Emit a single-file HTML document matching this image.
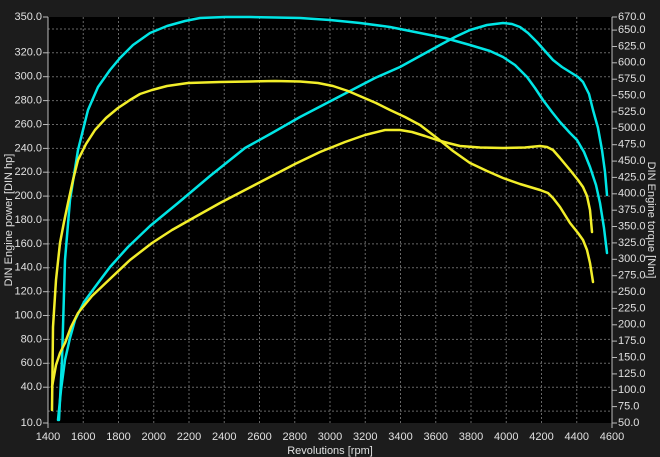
<!DOCTYPE html>
<html><head><meta charset="utf-8"><style>
html,body{margin:0;padding:0;background:#1c1c1c;}
svg{display:block;}
text{font-family:"Liberation Sans",sans-serif;font-size:11px;fill:#e0e0e0;}
</style></head><body>
<svg width="660" height="457" viewBox="0 0 660 457" xmlns="http://www.w3.org/2000/svg">
<rect x="0" y="0" width="660" height="457" fill="#1c1c1c"/>
<rect x="48" y="17" width="564" height="406" fill="#000"/>
<g stroke="#666" stroke-width="1" stroke-dasharray="2,2">
<line x1="83.25" y1="17" x2="83.25" y2="423"/><line x1="118.5" y1="17" x2="118.5" y2="423"/><line x1="153.75" y1="17" x2="153.75" y2="423"/><line x1="189" y1="17" x2="189" y2="423"/><line x1="224.25" y1="17" x2="224.25" y2="423"/><line x1="259.5" y1="17" x2="259.5" y2="423"/><line x1="294.75" y1="17" x2="294.75" y2="423"/><line x1="330" y1="17" x2="330" y2="423"/><line x1="365.25" y1="17" x2="365.25" y2="423"/><line x1="400.5" y1="17" x2="400.5" y2="423"/><line x1="435.75" y1="17" x2="435.75" y2="423"/><line x1="471" y1="17" x2="471" y2="423"/><line x1="506.25" y1="17" x2="506.25" y2="423"/><line x1="541.5" y1="17" x2="541.5" y2="423"/><line x1="576.75" y1="17" x2="576.75" y2="423"/>
<line x1="48" y1="411.1" x2="612" y2="411.1"/><line x1="48" y1="387.2" x2="612" y2="387.2"/><line x1="48" y1="363.3" x2="612" y2="363.3"/><line x1="48" y1="339.4" x2="612" y2="339.4"/><line x1="48" y1="315.5" x2="612" y2="315.5"/><line x1="48" y1="291.7" x2="612" y2="291.7"/><line x1="48" y1="267.8" x2="612" y2="267.8"/><line x1="48" y1="243.9" x2="612" y2="243.9"/><line x1="48" y1="220" x2="612" y2="220"/><line x1="48" y1="196.1" x2="612" y2="196.1"/><line x1="48" y1="172.2" x2="612" y2="172.2"/><line x1="48" y1="148.4" x2="612" y2="148.4"/><line x1="48" y1="124.5" x2="612" y2="124.5"/><line x1="48" y1="100.6" x2="612" y2="100.6"/><line x1="48" y1="76.7" x2="612" y2="76.7"/><line x1="48" y1="52.8" x2="612" y2="52.8"/><line x1="48" y1="29" x2="612" y2="29"/>
</g>
<g stroke="#bbb" stroke-width="1">
<line x1="48" y1="17" x2="48" y2="428"/><line x1="612" y1="17" x2="612" y2="428"/>
<line x1="43" y1="423" x2="48" y2="423"/><line x1="43" y1="387.2" x2="48" y2="387.2"/><line x1="43" y1="363.3" x2="48" y2="363.3"/><line x1="43" y1="339.4" x2="48" y2="339.4"/><line x1="43" y1="315.5" x2="48" y2="315.5"/><line x1="43" y1="291.7" x2="48" y2="291.7"/><line x1="43" y1="267.8" x2="48" y2="267.8"/><line x1="43" y1="243.9" x2="48" y2="243.9"/><line x1="43" y1="220" x2="48" y2="220"/><line x1="43" y1="196.1" x2="48" y2="196.1"/><line x1="43" y1="172.2" x2="48" y2="172.2"/><line x1="43" y1="148.4" x2="48" y2="148.4"/><line x1="43" y1="124.5" x2="48" y2="124.5"/><line x1="43" y1="100.6" x2="48" y2="100.6"/><line x1="43" y1="76.7" x2="48" y2="76.7"/><line x1="43" y1="52.8" x2="48" y2="52.8"/><line x1="43" y1="17" x2="48" y2="17"/>
</g>
<g stroke="#bbb" stroke-width="1">
<line x1="612" y1="423" x2="617" y2="423"/><line x1="612" y1="406.6" x2="617" y2="406.6"/><line x1="612" y1="390.3" x2="617" y2="390.3"/><line x1="612" y1="373.9" x2="617" y2="373.9"/><line x1="612" y1="357.5" x2="617" y2="357.5"/><line x1="612" y1="341.1" x2="617" y2="341.1"/><line x1="612" y1="324.8" x2="617" y2="324.8"/><line x1="612" y1="308.4" x2="617" y2="308.4"/><line x1="612" y1="292" x2="617" y2="292"/><line x1="612" y1="275.7" x2="617" y2="275.7"/><line x1="612" y1="259.3" x2="617" y2="259.3"/><line x1="612" y1="242.9" x2="617" y2="242.9"/><line x1="612" y1="226.5" x2="617" y2="226.5"/><line x1="612" y1="210.2" x2="617" y2="210.2"/><line x1="612" y1="193.8" x2="617" y2="193.8"/><line x1="612" y1="177.4" x2="617" y2="177.4"/><line x1="612" y1="161.1" x2="617" y2="161.1"/><line x1="612" y1="144.7" x2="617" y2="144.7"/><line x1="612" y1="128.3" x2="617" y2="128.3"/><line x1="612" y1="111.9" x2="617" y2="111.9"/><line x1="612" y1="95.6" x2="617" y2="95.6"/><line x1="612" y1="79.2" x2="617" y2="79.2"/><line x1="612" y1="62.8" x2="617" y2="62.8"/><line x1="612" y1="46.5" x2="617" y2="46.5"/><line x1="612" y1="30.1" x2="617" y2="30.1"/><line x1="612" y1="17" x2="617" y2="17"/>
</g>
<g text-anchor="end" dominant-baseline="middle">
<text x="42" y="423">10.0</text><text x="42" y="387.2">40.0</text><text x="42" y="363.3">60.0</text><text x="42" y="339.4">80.0</text><text x="42" y="315.5">100.0</text><text x="42" y="291.7">120.0</text><text x="42" y="267.8">140.0</text><text x="42" y="243.9">160.0</text><text x="42" y="220">180.0</text><text x="42" y="196.1">200.0</text><text x="42" y="172.2">220.0</text><text x="42" y="148.4">240.0</text><text x="42" y="124.5">260.0</text><text x="42" y="100.6">280.0</text><text x="42" y="76.7">300.0</text><text x="42" y="52.8">320.0</text><text x="42" y="17">350.0</text>
</g>
<g text-anchor="start" dominant-baseline="middle">
<text x="618" y="423">50.0</text><text x="618" y="406.6">75.0</text><text x="618" y="390.3">100.0</text><text x="618" y="373.9">125.0</text><text x="618" y="357.5">150.0</text><text x="618" y="341.1">175.0</text><text x="618" y="324.8">200.0</text><text x="618" y="308.4">225.0</text><text x="618" y="292">250.0</text><text x="618" y="275.7">275.0</text><text x="618" y="259.3">300.0</text><text x="618" y="242.9">325.0</text><text x="618" y="226.5">350.0</text><text x="618" y="210.2">375.0</text><text x="618" y="193.8">400.0</text><text x="618" y="177.4">425.0</text><text x="618" y="161.1">450.0</text><text x="618" y="144.7">475.0</text><text x="618" y="128.3">500.0</text><text x="618" y="111.9">525.0</text><text x="618" y="95.6">550.0</text><text x="618" y="79.2">575.0</text><text x="618" y="62.8">600.0</text><text x="618" y="46.5">625.0</text><text x="618" y="30.1">650.0</text><text x="618" y="17">670.0</text>
</g>
<g text-anchor="middle">
<text x="48" y="440">1400</text><text x="83.25" y="440">1600</text><text x="118.5" y="440">1800</text><text x="153.75" y="440">2000</text><text x="189" y="440">2200</text><text x="224.25" y="440">2400</text><text x="259.5" y="440">2600</text><text x="294.75" y="440">2800</text><text x="330" y="440">3000</text><text x="365.25" y="440">3200</text><text x="400.5" y="440">3400</text><text x="435.75" y="440">3600</text><text x="471" y="440">3800</text><text x="506.25" y="440">4000</text><text x="541.5" y="440">4200</text><text x="576.75" y="440">4400</text><text x="612" y="440">4600</text>
<text x="330" y="454">Revolutions [rpm]</text>
<text transform="translate(12,220) rotate(-90)">DIN Engine power [DIN hp]</text>
<text transform="translate(648,220) rotate(90)">DIN Engine torque [Nm]</text>
</g>
<g fill="none" stroke-width="2.5" stroke-linejoin="round" stroke-linecap="round">
<polyline stroke="#00e5e5" points="59,420 62,360 65,260 70,200 78,150 88,110 98,87 110,70 120,58 133,45 150,33 167,26 185,21 200,18 225,17 250,17 275,17.5 300,18 330,20 360,23 390,27 420,33 445,38 470,45 490,51 503,57 515,65 527,77 535,88 543,100 552,112 560,122 570,133 577,140 584,152 590,167 596,185 600,203 604,228 607,253"/>
<polyline stroke="#00e5e5" points="58,420 61,390 65,360 70,338 75,320 84,302 95,287 110,267 128,247 150,226 178,203 210,176 245,148 272,133 300,117 325,104 350,91 375,78 400,67 420,56 440,45 455,37 470,30 487,25 503,23 512,24 520,27 528,33 537,42 545,51 553,60 562,67 570,72 578,77 583,82 589,94 593,110 598,128 602,150 605,172 607,195"/>
<polyline stroke="#f2ee2a" points="52,410 52.5,370 53,327 56,280 60,243 64,222 68,203 73,180 78,160 86,144 95,130 106,118 118,108 130,100 140,94 152,90 167,86 188,83 220,82 250,81.5 275,81 300,81.5 318,83 333,86 348,91 362,97 376,103 390,110 405,117 420,125 437,138 453,151 470,163 487,171 503,178 520,184 540,190 548,193 553,198 560,207 570,223 578,233 583,240 587,250 590,263 593,282"/>
<polyline stroke="#f2ee2a" points="52,387 56,365 60,353 65,343 71,327 78,313 92,296 112,277 130,260 152,243 172,230 195,217 220,203 245,190 270,177 295,164 320,152 345,142 365,135 385,130 400,130 412,132 425,136 437,140 448,143 460,146 480,147.5 503,148 525,147.5 540,146 547,147 553,150 560,158 570,170 578,180 583,187 587,196 590,210 592,232"/>
</g>
</svg>
</body></html>
